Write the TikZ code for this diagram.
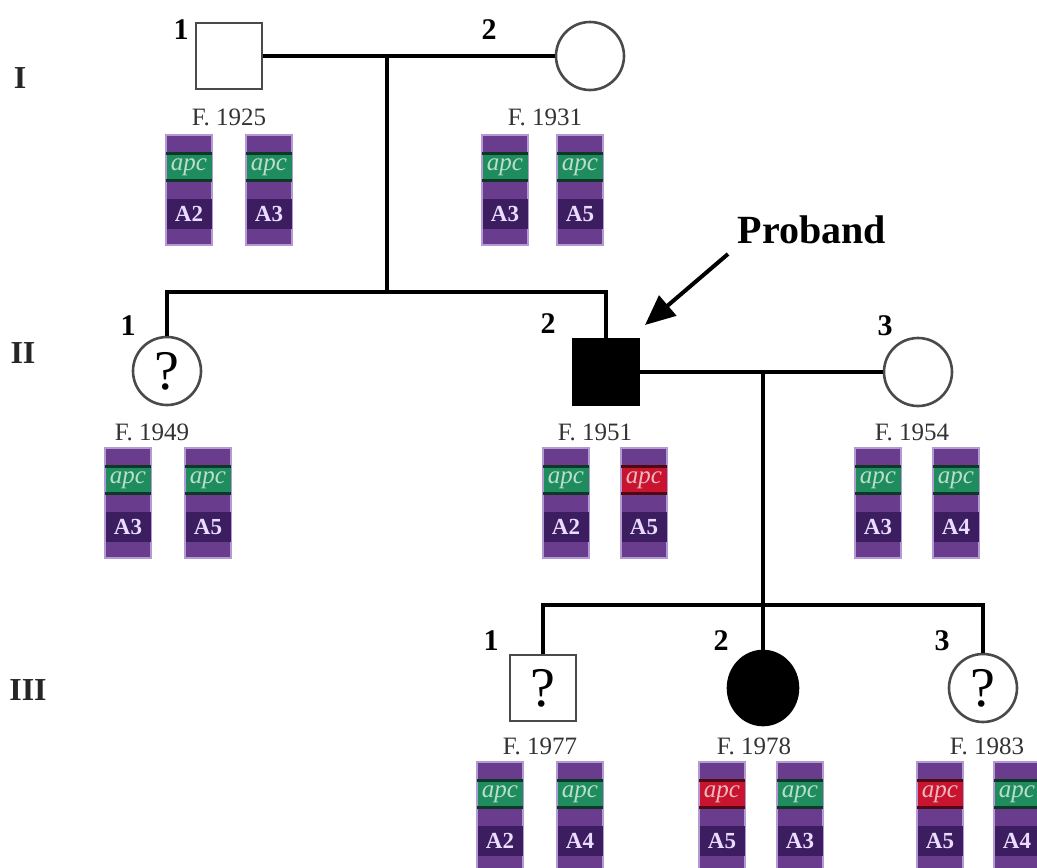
\documentclass[tikz,border=0pt]{standalone}
\usepackage{fontspec}
\setmainfont{Liberation Serif}
\usetikzlibrary{arrows.meta,shapes.geometric}

\definecolor{chrpurple}{HTML}{6A3C8E}
\definecolor{chredge}{HTML}{B49AD2}
\definecolor{chrdark}{HTML}{3C1D60}
\definecolor{chrlabel}{HTML}{EADCFF}
\definecolor{normalapc}{HTML}{1E8C5C}
\definecolor{mutantapc}{HTML}{C8142E}
\definecolor{outline}{HTML}{4A4A4A}

\tikzset{
  ped/.style={line width=4.5pt, black},
  person/.style={draw=outline, line width=2.6pt, fill=white, inner sep=0pt,
    font=\fontsize{56}{56}\selectfont},
  male/.style={person, rectangle, minimum size=66pt},
  female/.style={person, circle, minimum size=68pt},
  affected/.style={fill=black, draw=black},
  idx/.style={font=\bfseries\fontsize{30}{30}\selectfont, inner sep=0pt},
  gen/.style={font=\bfseries\fontsize{32}{32}\selectfont, text=black!85, inner sep=0pt},
  birth/.style={font=\fontsize{25}{25}\selectfont, text=black!80, inner sep=0pt},
  chrbody/.style={rectangle, minimum width=46pt, minimum height=110pt, inner sep=0pt,
    fill=chrpurple, draw=chredge, line width=1.2pt},
  apcband/.style={rectangle, minimum width=45pt, minimum height=27pt, inner sep=0pt,
    font=\itshape\fontsize{25}{25}\selectfont},
  mkband/.style={rectangle, minimum width=45pt, minimum height=30pt, inner sep=0pt,
    fill=chrdark, text=chrlabel, font=\bfseries\fontsize{23}{23}\selectfont},
}

% one chromosome: name, x, top y, colour of the apc band, marker allele
\newcommand\chromo[5]{%
  \node[chrbody] (#1) at (#2,#3+55) {};
  \node[apcband, fill=#4, text=#4!30!white] (#1a) at (#2,#3+32) {apc};
  \draw[#4!40!black, line width=2.5pt] (#1a.north west) -- (#1a.north east);
  \draw[#4!40!black, line width=2.5pt] (#1a.south west) -- (#1a.south east);
  \node[mkband] (#1m) at (#2,#3+79) {#5};
}

\begin{document}
\begin{tikzpicture}[x=1pt, y=-1pt]
\useasboundingbox[fill=white] (0,0) rectangle (1037,868);
\clip (0,0) rectangle (1037,868);

% generation numerals
\node[gen] (gI)   at (20,78)  {I};
\node[gen] (gII)  at (23,353) {II};
\node[gen] (gIII) at (28,690) {III};

% generation I
\node[male]   (I1) at (229,56) {};
\node[female] (I2) at (590,56) {};
\node[idx] (I1n) at (181,30) {1};
\node[idx] (I2n) at (489,30) {2};
\coordinate (m1) at (387,56);
\coordinate (s1) at (387,292);
\draw[ped] (I1.east) -- (I2.west);
\draw[ped] (m1) -- (s1);

% generation II
\node[female] (II1) at (167,371) {?};
\node[male, affected] (II2) at (606,372) {};
\node[female] (II3) at (918,372) {};
\node[idx] (II1n) at (128,326) {1};
\node[idx] (II2n) at (548,324) {2};
\node[idx] (II3n) at (885,326) {3};
\draw[ped] (II1.north) |- (s1) -| (II2.north);
\coordinate (m2) at (763,372);
\coordinate (s2) at (763,605);
\draw[ped] (II2.east) -- (II3.west);
\draw[ped] (m2) -- (s2);

% generation III
\node[male] (III1) at (543,688) {?};
\node[person, ellipse, affected, minimum width=70pt, minimum height=74pt] (III2) at (763,688) {};
\node[female] (III3) at (983,688) {?};
\node[idx] (III1n) at (491,641) {1};
\node[idx] (III2n) at (721,641) {2};
\node[idx] (III3n) at (942,641) {3};
\draw[ped] (III1.north) |- (s2) -| (III3.north);
\draw[ped] (s2) -- (III2.north);

% proband arrow
\node[font=\bfseries\fontsize{40}{40}\selectfont, inner sep=0pt] (prob) at (812,230) {Proband};
\coordinate (ptail) at (728,254);
\coordinate (ptip) at (645,325);
\draw[line width=4pt, -{Triangle[length=30pt, width=26pt]}] (ptail) -- (ptip);

% birth labels
\node[birth] (bI1)   at (229,117) {F. 1925};
\node[birth] (bI2)   at (545,117) {F. 1931};
\node[birth] (bII1)  at (152,432) {F. 1949};
\node[birth] (bII2)  at (595,432) {F. 1951};
\node[birth] (bII3)  at (912,432) {F. 1954};
\node[birth] (bIII1) at (540,746) {F. 1977};
\node[birth] (bIII2) at (754,746) {F. 1978};
\node[birth] (bIII3) at (987,746) {F. 1983};

% haplotypes
\chromo{cI1a}{189}{135}{normalapc}{A2}
\chromo{cI1b}{269}{135}{normalapc}{A3}
\chromo{cI2a}{505}{135}{normalapc}{A3}
\chromo{cI2b}{580}{135}{normalapc}{A5}
\chromo{cII1a}{128}{448}{normalapc}{A3}
\chromo{cII1b}{208}{448}{normalapc}{A5}
\chromo{cII2a}{566}{448}{normalapc}{A2}
\chromo{cII2b}{644}{448}{mutantapc}{A5}
\chromo{cII3a}{878}{448}{normalapc}{A3}
\chromo{cII3b}{956}{448}{normalapc}{A4}
\chromo{cIII1a}{500}{762}{normalapc}{A2}
\chromo{cIII1b}{580}{762}{normalapc}{A4}
\chromo{cIII2a}{722}{762}{mutantapc}{A5}
\chromo{cIII2b}{800}{762}{normalapc}{A3}
\chromo{cIII3a}{940}{762}{mutantapc}{A5}
\chromo{cIII3b}{1017}{762}{normalapc}{A4}
\end{tikzpicture}
\end{document}
